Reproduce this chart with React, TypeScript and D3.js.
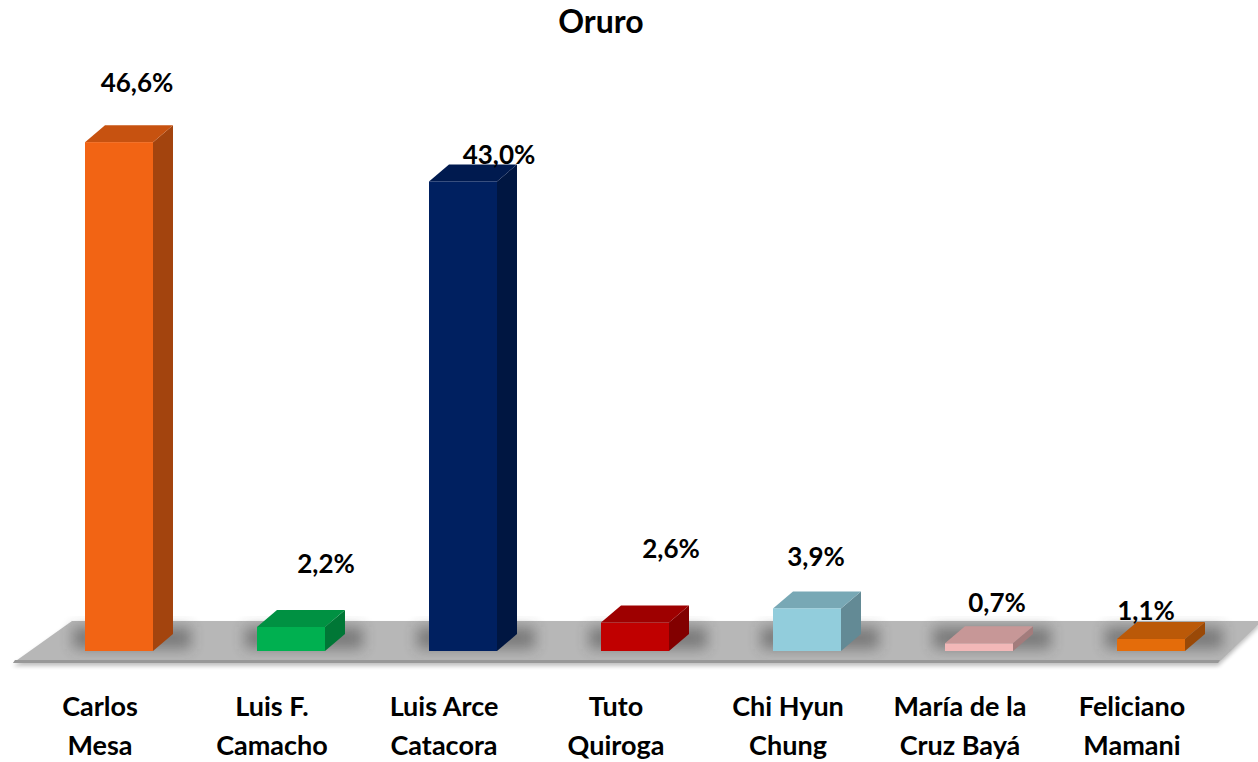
import { useEffect, useRef } from "react";
import * as d3 from "d3";

const title = "Oruro";
const candidates = [
  ["Carlos", "Mesa"],
  ["Luis F.", "Camacho"],
  ["Luis Arce", "Catacora"],
  ["Tuto", "Quiroga"],
  ["Chi Hyun", "Chung"],
  ["María de la", "Cruz Bayá"],
  ["Feliciano", "Mamani"],
];
const shares = [46.6, 2.2, 43.0, 2.6, 3.9, 0.7, 1.1];
const shareLabels = ["46,6%", "2,2%", "43,0%", "2,6%", "3,9%", "0,7%", "1,1%"];
const fronts = ["#f26414", "#00b050", "#002060", "#c00000", "#92cddc", "#f2b8b8", "#e46c0a"];

// label placement, hand tuned like the original sheet
const labelNudge: [number, number][] = [
  [18, -50], [35, -54], [36, -17], [36, -65], [9, -42], [18, -31], [-5, -19],
];

const W = 1258;
const H = 762;
const FONT = "Lato, 'Open Sans', sans-serif";

export default function App() {
  const svgRef = useRef<SVGSVGElement | null>(null);

  useEffect(() => {
    const svg = d3.select(svgRef.current);
    svg.selectAll("*").remove();

    const base = 651;
    const barW = 68;
    const depthX = 20;
    const depthY = -17;

    const x = d3.scalePoint<number>()
      .domain(d3.range(candidates.length))
      .range([119, 1151]);
    const y = d3.scaleLinear().domain([0, 50]).range([base, 105]);

    const defs = svg.append("defs");
    defs.append("filter")
      .attr("id", "blur")
      .attr("x", "-50%").attr("y", "-50%").attr("width", "200%").attr("height", "200%")
      .append("feGaussianBlur").attr("stdDeviation", 7);
    defs.append("filter")
      .attr("id", "blurSmall")
      .append("feGaussianBlur").attr("stdDeviation", 2);

    // floor
    const floor = svg.append("g");
    floor.append("path")
      .attr("d", "M13,666 L72,624 L1262,624 L1218,666 Z")
      .attr("fill", "#000")
      .attr("opacity", 0.25)
      .attr("filter", "url(#blurSmall)");
    floor.append("path")
      .attr("d", "M13,663 L72,621 L1262,621 L1218,663 Z")
      .attr("fill", "#b7b7b7");
    floor.append("path")
      .attr("d", "M13,663 L1218,663 L1220,660 L15,660 Z")
      .attr("fill", "#989898");

    // bar shadows
    svg.append("g")
      .selectAll("rect")
      .data(shares)
      .join("rect")
      .attr("x", (_, i) => (x(i) as number) - barW / 2 - 12)
      .attr("y", base - 24)
      .attr("width", barW + depthX + 30)
      .attr("height", 22)
      .attr("fill", "#333")
      .attr("opacity", 0.45)
      .attr("filter", "url(#blur)");

    const bars = svg.append("g")
      .selectAll("g")
      .data(shares)
      .join("g");

    bars.each(function (d, i) {
      const g = d3.select(this);
      const x0 = (x(i) as number) - barW / 2;
      const x1 = x0 + barW;
      const top = y(d);
      const c = d3.color(fronts[i]) as d3.RGBColor;
      const side = c.darker(1.1).formatHex();
      const lid = c.darker(0.55).formatHex();

      // side face
      g.append("path")
        .attr("d", `M${x1},${base} L${x1},${top} L${x1 + depthX},${top + depthY} L${x1 + depthX},${base + depthY} Z`)
        .attr("fill", side);
      // top face
      g.append("path")
        .attr("d", `M${x0},${top} L${x0 + depthX},${top + depthY} L${x1 + depthX},${top + depthY} L${x1},${top} Z`)
        .attr("fill", lid);
      // front face
      g.append("rect")
        .attr("x", x0)
        .attr("y", top)
        .attr("width", barW)
        .attr("height", base - top)
        .attr("fill", fronts[i]);
    });

    // value labels
    svg.append("g")
      .selectAll("text")
      .data(shares)
      .join("text")
      .attr("x", (_, i) => (x(i) as number) + labelNudge[i][0])
      .attr("y", (d, i) => y(d) + labelNudge[i][1])
      .attr("text-anchor", "middle")
      .attr("font-family", FONT)
      .attr("font-weight", 700)
      .attr("font-size", 26)
      .attr("fill", "#000")
      .text((_, i) => shareLabels[i]);

    // category labels
    const cats = svg.append("g")
      .selectAll("text")
      .data(candidates)
      .join("text")
      .attr("text-anchor", "middle")
      .attr("font-family", FONT)
      .attr("font-weight", 700)
      .attr("font-size", 27)
      .attr("fill", "#000");
    cats.each(function (lines, i) {
      const t = d3.select(this);
      lines.forEach((line, k) => {
        t.append("tspan")
          .attr("x", (x(i) as number) - 19)
          .attr("y", 716 + k * 39)
          .text(line);
      });
    });

    svg.append("text")
      .attr("x", 601)
      .attr("y", 33)
      .attr("text-anchor", "middle")
      .attr("font-family", FONT)
      .attr("font-weight", 700)
      .attr("font-size", 32)
      .attr("fill", "#000")
      .text(title);
  }, []);

  return (
    <div style={{ position: "fixed", left: 0, top: 0, width: W, height: H, background: "#fff" }}>
      <svg ref={svgRef} width={W} height={H} style={{ display: "block" }} />
    </div>
  );
}
